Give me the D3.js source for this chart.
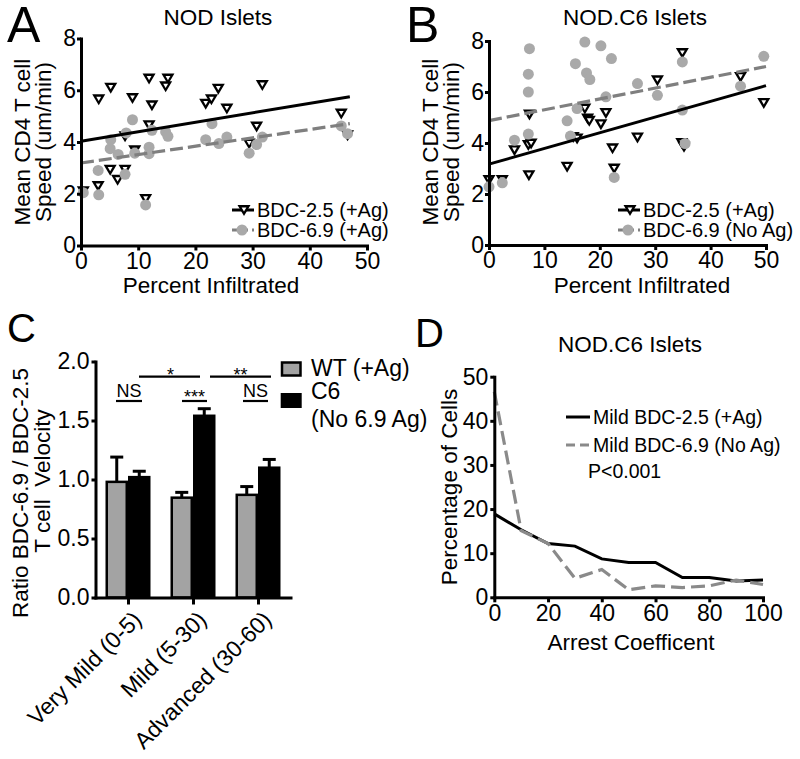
<!DOCTYPE html>
<html>
<head>
<meta charset="utf-8">
<script src="https://cdn.jsdelivr.net/npm/d3@7"></script>
<style>
  body { margin: 0; background: #fff; }
  text { font-family: 'Liberation Sans', Arial, Helvetica, sans-serif; }
</style>
</head>
<body>
<svg width="800" height="759"></svg>
<script>
var svg = d3.select("svg");

//==================================================
// data

// panel A, NOD islets
var aTriX = [0.4, 3.0, 3.1, 5.2, 5.1, 6.4, 7.7, 7.7, 9.0, 9.4, 11.3, 11.9, 12.4, 11.9, 15.2, 14.8, 21.8, 22.8, 24.0, 25.5, 29.4, 30.7, 31.7, 45.5, 46.6];
var aTriY = [2.1, 2.3, 5.65, 6.1, 2.93, 2.54, 2.93, 4.22, 5.7, 3.68, 1.8, 6.45, 5.42, 4.65, 6.45, 6.15, 5.48, 5.65, 6.06, 5.29, 3.94, 4.6, 6.2, 5.1, 4.26];
var aCirX = [0.4, 3.1, 3.0, 5.1, 5.2, 6.5, 7.7, 7.9, 9.0, 9.4, 11.3, 11.9, 11.9, 12.4, 14.8, 15.2, 21.8, 22.9, 24.1, 25.5, 29.4, 30.7, 31.7, 45.5, 46.6];
var aCirY = [2.04, 1.96, 2.9, 3.74, 4.09, 3.52, 2.75, 4.35, 4.86, 3.57, 1.57, 3.8, 3.55, 4.45, 4.39, 4.22, 4.09, 4.71, 3.94, 4.19, 3.57, 3.9, 4.19, 4.62, 4.32];
var aFit25 = [[0, 4.03], [47, 5.75]];
var aFit69 = [[0, 3.19], [47, 4.71]];

// panel B, NOD.C6 islets
var bTriX = [0, 2.4, 4.6, 7.1, 7.6, 7.3, 7.2, 14.1, 15.2, 15.9, 17.3, 17.8, 18.1, 20.2, 21.1, 22.3, 22.6, 26.8, 30.4, 34.9, 34.8, 35.2, 45.4, 49.6];
var bTriY = [2.55, 2.55, 3.72, 3.92, 3.98, 5.12, 2.74, 3.07, 4.24, 4.18, 5.35, 4.96, 4.87, 4.74, 5.18, 3.79, 3.0, 4.22, 6.46, 7.53, 4.0, 3.85, 6.59, 5.57];
var bCirX = [0, 2.4, 4.6, 7.1, 7.3, 7.1, 7.1, 14.1, 14.7, 15.6, 15.9, 17.3, 17.6, 18.2, 20.2, 21.1, 22.1, 22.6, 26.8, 30.4, 34.9, 34.9, 35.4, 45.4, 49.6];
var bCirY = [2.28, 2.44, 4.11, 6.7, 7.7, 6.0, 4.35, 4.87, 4.27, 7.11, 5.35, 7.96, 6.75, 6.49, 7.81, 5.81, 7.31, 2.65, 6.33, 5.87, 7.18, 5.29, 3.98, 6.23, 7.4];
var bFit25 = [[0, 3.17], [50, 6.25]];
var bFit69 = [[0, 4.88], [50, 7.0]];

var xTicks = [0, 10, 20, 30, 40, 50];
var speedTicks = [0, 2, 4, 6, 8];

// panel C, ratio of velocities
var cats = ["Very Mild (0-5)", "Mild (5-30)", "Advanced (30-60)"];
var wtMean = [0.98, 0.846, 0.87];
var wtErr = [0.21, 0.045, 0.07];
var c6Mean = [1.02, 1.54, 1.10];
var c6Err = [0.05, 0.06, 0.07];
var ratioTicks = [0, 0.5, 1.0, 1.5, 2.0];

// panel D, arrest coefficient distribution
var arrestX = [0, 10, 20, 30, 40, 50, 60, 70, 80, 90, 100];
var mild25 = [18.9, 15.3, 12.2, 11.6, 8.7, 7.9, 7.9, 4.5, 4.5, 3.7, 3.9];
var mild69 = [46.6, 15.1, 12.2, 4.3, 6.3, 1.7, 2.6, 2.2, 2.6, 3.9, 2.9];
var arrestTicks = [0, 20, 40, 60, 80, 100];
var pctTicks = [0, 10, 20, 30, 40, 50];

var GRAY_PT = "#a9a9a9";
var GRAY_LINE = "#7f7f7f";
var GRAY_BAR = "#a3a3a3";

//==================================================
// helpers

var styleAxis = function(g) {
    g.attr("font-size", null).attr("font-family", null);
    g.select(".domain").attr("stroke-width", 3).attr("stroke-linecap", "square");
    g.selectAll(".tick line").attr("stroke-width", 3);
    g.selectAll(".tick text").attr("font-size", 23).attr("fill", "#000");
};

var label = function(x, y, txt, size, anchor, rot) {
    var t = svg.append("text")
        .attr("x", x).attr("y", y)
        .attr("font-size", size)
        .attr("text-anchor", anchor || "middle")
        .style("white-space", "pre")
        .text(txt);
    if (rot) t.attr("transform", "rotate(" + rot + "," + x + "," + y + ")");
    return t;
};

// downward open triangle, GraphPad style
var triPath = "M-6.5,-5L6.5,-5L0,6Z";
var triHole = "M-2.4,-2.6L2.4,-2.6L0,1.6Z";

var drawTri = function(g, x, y) {
    var t = g.append("g").attr("transform", "translate(" + x + "," + y + ")");
    t.append("path").attr("d", triPath).attr("fill", "#000");
    t.append("path").attr("d", triHole).attr("fill", "#fff");
};

//==================================================
// scatter panels A and B

var scatter = function(o) {
    var x = d3.scaleLinear().domain([0, 50]).range(o.xr);
    var y = d3.scaleLinear().domain([0, 8]).range(o.yr);

    var g = svg.append("g");

    var line = d3.line().x(function(d) { return x(d[0]); }).y(function(d) { return y(d[1]); });

    o.triX.forEach(function(v, i) { drawTri(g, x(v), y(o.triY[i])); });

    g.selectAll("circle.pt")
        .data(o.cirX)
        .enter().append("circle")
        .attr("class", "pt")
        .attr("cx", function(d) { return x(d); })
        .attr("cy", function(d, i) { return y(o.cirY[i]); })
        .attr("r", 5.5)
        .attr("fill", GRAY_PT);

    g.append("path").attr("d", line(o.fit25))
        .attr("stroke", "#000").attr("stroke-width", 3).attr("fill", "none");
    g.append("path").attr("d", line(o.fit69))
        .attr("stroke", GRAY_LINE).attr("stroke-width", 3.2).attr("fill", "none")
        .attr("stroke-dasharray", "13,5");

    svg.append("g").attr("transform", "translate(0," + o.yr[0] + ")")
        .call(d3.axisBottom(x).tickValues(xTicks).tickSize(5).tickPadding(2).tickSizeOuter(0))
        .call(styleAxis);
    svg.append("g").attr("transform", "translate(" + o.xr[0] + ",0)")
        .call(d3.axisLeft(y).tickValues(speedTicks).tickSize(4).tickPadding(1).tickSizeOuter(0))
        .call(styleAxis);

    // legend
    var lg = svg.append("g");
    lg.append("line").attr("x1", o.leg[0]).attr("x2", o.leg[0] + 22)
        .attr("y1", o.leg[1]).attr("y2", o.leg[1]).attr("stroke", "#000").attr("stroke-width", 3);
    drawTri(lg, o.leg[0] + 12, o.leg[1]);
    lg.append("line").attr("x1", o.leg[0]).attr("x2", o.leg[0] + 22)
        .attr("y1", o.leg[1] + 20).attr("y2", o.leg[1] + 20).attr("stroke", GRAY_LINE)
        .attr("stroke-width", 3).attr("stroke-dasharray", "6,4");
    lg.append("circle").attr("cx", o.leg[0] + 10).attr("cy", o.leg[1] + 20).attr("r", 5.5).attr("fill", GRAY_PT);
    label(o.leg[0] + 25, o.leg[1] + 7, o.leg1, 20, "start");
    label(o.leg[0] + 25, o.leg[1] + 27, o.leg2, 20, "start");

    label(o.title[0], 25, o.title[1], 22.5);
    label(o.letter[0], 42, o.letter[1], 50, "start");
    label(o.ylab, 142, "Mean CD4 T cell", 22.5, "middle", -90);
    label(o.ylab + 21, 142, "Speed (um/min)", 22.5, "middle", -90);
    label(o.xlab, 293, "Percent Infiltrated", 22.5);
};

scatter({
    xr: [81, 367], yr: [245.5, 38.5],
    triX: aTriX, triY: aTriY, cirX: aCirX, cirY: aCirY,
    fit25: aFit25, fit69: aFit69,
    leg: [232, 210], leg1: "BDC-2.5 (+Ag)", leg2: "BDC-6.9 (+Ag)",
    title: [218, "NOD Islets"], letter: [7, "A"], ylab: 30, xlab: 211
});

scatter({
    xr: [489, 766], yr: [245, 41],
    triX: bTriX, triY: bTriY, cirX: bCirX, cirY: bCirY,
    fit25: bFit25, fit69: bFit69,
    leg: [618, 210], leg1: "BDC-2.5 (+Ag)", leg2: "BDC-6.9 (No Ag)",
    title: [635, "NOD.C6 Islets"], letter: [406, "B"], ylab: 438, xlab: 642
});

//==================================================
// panel C, bars

(function() {
    var x = d3.scalePoint().domain(cats).range([95.5, 290.5]).padding(0.5);
    var y = d3.scaleLinear().domain([0, 2]).range([597.5, 361.5]);
    var bw = 22.5;
    var g = svg.append("g");

    var series = [
        { mean: wtMean, err: wtErr, fill: GRAY_BAR, off: -bw },
        { mean: c6Mean, err: c6Err, fill: "#000", off: 0 }
    ];

    series.forEach(function(s) {
        cats.forEach(function(c, i) {
            var cx = x(c) + s.off + bw / 2;
            var top = y(s.mean[i] + s.err[i]);
            g.append("line").attr("x1", cx).attr("x2", cx)
                .attr("y1", y(s.mean[i])).attr("y2", top)
                .attr("stroke", "#000").attr("stroke-width", 3);
            g.append("line").attr("x1", cx - 6.5).attr("x2", cx + 6.5)
                .attr("y1", top).attr("y2", top)
                .attr("stroke", "#000").attr("stroke-width", 3);
        });
        g.selectAll(null)
            .data(cats)
            .enter().append("rect")
            .attr("x", function(d) { return x(d) + s.off + 1.25; })
            .attr("y", function(d, i) { return y(s.mean[i]); })
            .attr("width", bw - 2.5)
            .attr("height", function(d, i) { return y(0) - y(s.mean[i]); })
            .attr("fill", s.fill)
            .attr("stroke", "#000").attr("stroke-width", 2.5);
    });

    svg.append("g").attr("transform", "translate(0,597.5)")
        .call(d3.axisBottom(x).tickSize(7).tickFormat("").tickSizeOuter(0))
        .call(styleAxis);
    svg.append("g").attr("transform", "translate(95.5,0)")
        .call(d3.axisLeft(y).tickValues(ratioTicks).tickFormat(d3.format(".1f")).tickSize(4).tickPadding(2).tickSizeOuter(0))
        .call(styleAxis);

    cats.forEach(function(c) {
        label(x(c) + 15, 621, c, 23, "end", -45);
    });

    // significance marks
    var bar = function(x1, x2, yy) {
        svg.append("line").attr("x1", x1).attr("x2", x2).attr("y1", yy).attr("y2", yy)
            .attr("stroke", "#000").attr("stroke-width", 2.2);
    };
    var xs = cats.map(function(c) { return x(c); });
    bar(xs[0] + 11, xs[1] + 7, 376.7);
    label((xs[0] + xs[1]) / 2 + 10, 381, "*", 18);
    bar(xs[1] + 17, xs[2] + 13, 376.7);
    label((xs[1] + xs[2]) / 2 + 15, 381, "**", 18);
    bar(xs[0] - 12, xs[0] + 14, 401);
    label(xs[0] + 1, 396.5, "NS", 18);
    bar(xs[1] - 11, xs[1] + 14, 401);
    label(xs[1] + 1.5, 403, "***", 18);
    bar(xs[2] - 15, xs[2] + 10, 401);
    label(xs[2] - 2.5, 396.5, "NS", 18);

    // legend
    svg.append("rect").attr("x", 282).attr("y", 362.5).attr("width", 18.5).attr("height", 13)
        .attr("fill", GRAY_BAR).attr("stroke", "#000").attr("stroke-width", 2.5);
    svg.append("rect").attr("x", 280.7).attr("y", 393).attr("width", 21).attr("height", 15).attr("fill", "#000");
    label(311, 376, "WT (+Ag)", 23, "start");
    label(311, 399, "C6", 23, "start");
    label(311, 427, "(No 6.9 Ag)", 23, "start");

    label(7, 342, "C", 40, "start");
    label(28, 493, "Ratio BDC-6.9 / BDC-2.5", 22.5, "middle", -90);
    label(50, 481, "T cell  Velocity", 22.5, "middle", -90);
})();

//==================================================
// panel D, lines

(function() {
    var x = d3.scaleLinear().domain([0, 100]).range([494.3, 763]);
    var y = d3.scaleLinear().domain([0, 50]).range([597.3, 376.7]);

    var line = d3.line()
        .x(function(d, i) { return x(arrestX[i]); })
        .y(function(d) { return y(d); });

    svg.append("path").attr("d", line(mild25))
        .attr("fill", "none").attr("stroke", "#000").attr("stroke-width", 3);
    svg.append("path").attr("d", line(mild69))
        .attr("fill", "none").attr("stroke", "#8a8a8a").attr("stroke-width", 3.2)
        .attr("stroke-dasharray", "14,6");

    svg.append("g").attr("transform", "translate(0,597.3)")
        .call(d3.axisBottom(x).tickValues(arrestTicks).tickSize(5).tickPadding(2).tickSizeOuter(0))
        .call(styleAxis);
    svg.append("g").attr("transform", "translate(494.3,0)")
        .call(d3.axisLeft(y).tickValues(pctTicks).tickSize(4).tickPadding(2).tickSizeOuter(0))
        .call(styleAxis);

    svg.append("line").attr("x1", 566).attr("x2", 590).attr("y1", 417).attr("y2", 417)
        .attr("stroke", "#000").attr("stroke-width", 3);
    svg.append("line").attr("x1", 566).attr("x2", 590).attr("y1", 445).attr("y2", 445)
        .attr("stroke", "#8a8a8a").attr("stroke-width", 3).attr("stroke-dasharray", "9,5");
    label(593, 424, "Mild BDC-2.5 (+Ag)", 19.5, "start");
    label(593, 452, "Mild BDC-6.9 (No Ag)", 19.5, "start");
    label(588, 478, "P<0.001", 19.5, "start");

    label(630, 352, "NOD.C6 Islets", 22.5);
    label(415, 347, "D", 40, "start");
    label(457, 487, "Percentage of Cells", 22.5, "middle", -90);
    label(631, 650, "Arrest Coefficent", 22.5);
})();
</script>
</body>
</html>
